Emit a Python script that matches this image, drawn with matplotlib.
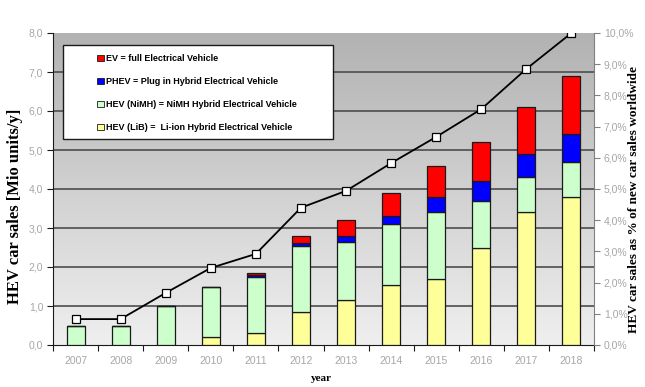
import matplotlib
matplotlib.use("Agg")
import matplotlib.pyplot as plt
import numpy as np
from matplotlib.patches import Rectangle, Patch

years = ["2007", "2008", "2009", "2010", "2011", "2012", "2013", "2014", "2015", "2016", "2017", "2018"]
hev_lib = [0.0, 0.0, 0.0, 0.2, 0.3, 0.85, 1.15, 1.55, 1.7, 2.5, 3.4, 3.8]
hev_nimh = [0.5, 0.5, 1.0, 1.3, 1.45, 1.7, 1.5, 1.55, 1.7, 1.2, 0.9, 0.9]
phev = [0.0, 0.0, 0.0, 0.0, 0.05, 0.07, 0.15, 0.2, 0.4, 0.5, 0.6, 0.7]
ev = [0.0, 0.0, 0.0, 0.0, 0.05, 0.18, 0.4, 0.6, 0.8, 1.0, 1.2, 1.5]
share_pct = [0.83, 0.83, 1.67, 2.47, 2.92, 4.4, 4.94, 5.83, 6.67, 7.56, 8.85, 10.0]

labels = ["EV = full Electrical Vehicle",
          "PHEV = Plug in Hybrid Electrical Vehicle",
          "HEV (NiMH) = NiMH Hybrid Electrical Vehicle",
          "HEV (LiB) =  Li-ion Hybrid Electrical Vehicle"]
colors = {"ev": "#ff0000", "phev": "#0000ff", "nimh": "#ccffcc", "lib": "#ffff99"}

plt.rcParams['font.family'] = ['Liberation Sans', 'DejaVu Sans']
tick_gray = "#a6a6a6"

fig = plt.figure(figsize=(6.45, 3.87), dpi=100)
ax = fig.add_axes([53/645, 1 - 345/387, (594-53)/645, (345-33)/387])

# gradient background (dark at top, light at bottom)
grad = np.linspace(0, 1, 256).reshape(-1, 1)
cmap = matplotlib.colors.LinearSegmentedColormap.from_list("bg", ["#b2b2b2", "#efefef"])
ax.imshow(grad, aspect="auto", cmap=cmap, extent=[0, 1, 0, 1], origin="upper",
          transform=ax.transAxes, zorder=0)

x = np.arange(len(years))
w = 0.4
b0 = np.zeros(len(years))
lib = np.array(hev_lib); nimh = np.array(hev_nimh); ph = np.array(phev); e = np.array(ev)
kw = dict(width=w, edgecolor="#1a1a1a", linewidth=0.9, zorder=3)
ax.bar(x, lib, bottom=b0, color=colors["lib"], **kw)
ax.bar(x, nimh, bottom=lib, color=colors["nimh"], **kw)
ax.bar(x, ph, bottom=lib + nimh, color=colors["phev"], **kw)
ax.bar(x, e, bottom=lib + nimh + ph, color=colors["ev"], **kw)

ax.set_xlim(-0.5, len(years) - 0.5)
ax.set_ylim(0, 8)
ax.set_yticks(np.arange(0, 9, 1))
ax.set_yticklabels([f"{v:.1f}".replace(".", ",") for v in range(0, 9)], color=tick_gray, fontsize=7.5)
for yv in range(1, 8):
    ax.axhline(yv, color="#4d4d4d", linewidth=1.2, zorder=1)

ax.set_xticks(np.arange(-0.5, len(years), 1))
ax.set_xticklabels([])
ax.set_xticks(x, minor=True)
ax.set_xticklabels(years, minor=True, color=tick_gray, fontsize=7.5)
ax.tick_params(axis="x", which="minor", length=0, pad=8)
ax.tick_params(axis="x", which="major", length=4, direction="out", color="#1a1a1a")
ax.tick_params(axis="y", length=4, direction="out", color="#1a1a1a", pad=3)

for s in ["top", "right"]:
    ax.spines[s].set_visible(False)
ax.spines["left"].set_color("#1a1a1a")
ax.spines["bottom"].set_color("#1a1a1a")

ax.set_ylabel("HEV car sales [Mio units/y]", fontfamily="Liberation Serif", fontweight="bold", fontsize=12)
ax.yaxis.set_label_coords(-0.055, 0.445)
ax.set_xlabel("year", fontfamily="Liberation Serif", fontweight="bold", fontsize=8)
ax.xaxis.set_label_coords(0.497, -0.093)

ax2 = ax.twinx()
ax2.set_ylim(0, 10)
ax2.set_yticks(np.arange(0, 11, 1))
ax2.set_yticklabels([f"{v:.1f}%".replace(".", ",") for v in range(0, 11)], color=tick_gray, fontsize=7.5)
ax2.tick_params(axis="y", length=4, direction="out", color="#808080", pad=3)
for s in ["top", "left", "bottom"]:
    ax2.spines[s].set_visible(False)
ax2.spines["right"].set_color("#808080")
ax2.plot(x, share_pct, color="black", linewidth=1.3, marker="s", markersize=6,
         markerfacecolor="white", markeredgecolor="black", markeredgewidth=0.9, zorder=5)
ax2.set_ylabel("HEV car sales as % of new car sales worldwide", fontfamily="Liberation Serif",
               fontweight="bold", fontsize=9.5, rotation=90)
ax2.yaxis.set_label_coords(1.063, 0.465)

# legend box
ax.add_patch(Rectangle((63/645, 1 - 139/387), (333-63)/645, (139-45)/387, transform=fig.transFigure,
                       facecolor="white", edgecolor="#1a1a1a", linewidth=1.0, zorder=6))
handles = [Patch(facecolor=colors["ev"], edgecolor="#1a1a1a", linewidth=0.6),
           Patch(facecolor=colors["phev"], edgecolor="#1a1a1a", linewidth=0.6),
           Patch(facecolor=colors["nimh"], edgecolor="#1a1a1a", linewidth=0.6),
           Patch(facecolor=colors["lib"], edgecolor="#1a1a1a", linewidth=0.6)]
leg = ax2.legend(handles, labels, loc="upper left", bbox_to_anchor=(90/645, 1 - 47/387),
                 bbox_transform=fig.transFigure, frameon=False, handlelength=0.7, handleheight=0.7,
                 handletextpad=0.3, labelspacing=1.55, borderpad=0.3,
                 prop=dict(family="Liberation Sans", weight="bold", size=6.5))
leg.set_zorder(7)

fig.savefig("out.png", dpi=100)
